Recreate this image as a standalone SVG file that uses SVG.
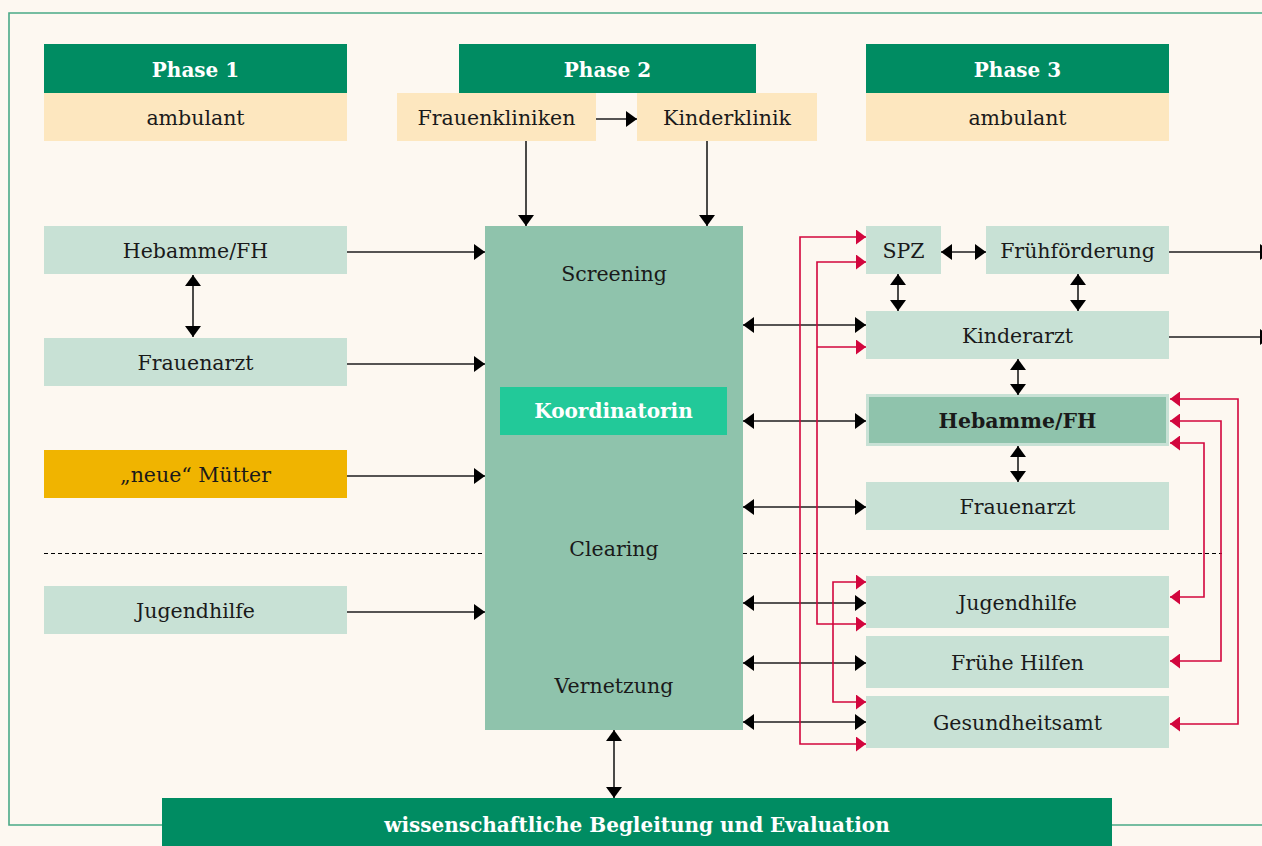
<svg xmlns="http://www.w3.org/2000/svg" width="1262" height="846" viewBox="0 0 1262 846">
<style>
.t{font-family:"DejaVu Serif","Liberation Serif",serif;font-size:20.5px;fill:#1a1a1a;text-anchor:middle}
.b{font-family:"DejaVu Serif","Liberation Serif",serif;font-size:20px;font-weight:bold;fill:#ffffff;text-anchor:middle}
.hd{fill:#008c62}
.cr{fill:#fde7bf}
.lg{fill:#c8e1d5}
.k{stroke:#1e1e1e;stroke-width:1.6;fill:none}
.r{stroke:#d2063d;stroke-width:1.6;fill:none}
</style>
<defs>
<marker id="ak" viewBox="0 0 11 16" refX="11" refY="8" markerWidth="11" markerHeight="16" markerUnits="userSpaceOnUse" orient="auto-start-reverse"><path d="M0,0 L11,8 L0,16 Z" fill="#000"/></marker>
<marker id="ar" viewBox="0 0 10 15" refX="10" refY="7.5" markerWidth="10" markerHeight="15" markerUnits="userSpaceOnUse" orient="auto-start-reverse"><path d="M0,0 L10,7.5 L0,15 Z" fill="#d2063d"/></marker>
</defs>
<rect x="0" y="0" width="1262" height="846" fill="#fdf8f1"/>
<path d="M1262,13 H9 V825 H1262" fill="none" stroke="#4aa987" stroke-width="1.6"/>

<g id="phase1">
<rect class="hd" x="44" y="44" width="303" height="49"/>
<text class="b" x="195.5" y="77">Phase 1</text>
<rect class="cr" x="44" y="93" width="303" height="48"/>
<text class="t" x="195.5" y="125">ambulant</text>
</g>
<g id="phase2">
<rect class="hd" x="459" y="44" width="297" height="49"/>
<text class="b" x="607.5" y="77">Phase 2</text>
</g>
<g id="frauenkliniken">
<rect class="cr" x="397" y="93" width="199" height="48"/>
<text class="t" x="496.5" y="125">Frauenkliniken</text>
</g>
<g id="kinderklinik">
<rect class="cr" x="637" y="93" width="180" height="48"/>
<text class="t" x="727" y="125">Kinderklinik</text>
</g>
<g id="phase3">
<rect class="hd" x="866" y="44" width="303" height="49"/>
<text class="b" x="1017.5" y="77">Phase 3</text>
<rect class="cr" x="866" y="93" width="303" height="48"/>
<text class="t" x="1017.5" y="125">ambulant</text>
</g>

<g id="hebamme-l">
<rect class="lg" x="44" y="226" width="303" height="48"/>
<text class="t" x="195.5" y="258">Hebamme/FH</text>
</g>
<g id="frauenarzt-l">
<rect class="lg" x="44" y="338" width="303" height="48"/>
<text class="t" x="195.5" y="370">Frauenarzt</text>
</g>
<g id="muetter">
<rect x="44" y="450" width="303" height="48" fill="#f0b400"/>
<text class="t" x="195.5" y="482">„neue“ Mütter</text>
</g>
<g id="jugendhilfe-l">
<rect class="lg" x="44" y="586" width="303" height="48"/>
<text class="t" x="195.5" y="618">Jugendhilfe</text>
</g>

<g id="center">
<rect x="485" y="226" width="258" height="504" fill="#8fc3ac"/>
<text class="t" x="614" y="281">Screening</text>
<rect x="500" y="387" width="227" height="48" fill="#22c999"/>
<text class="b" x="613.5" y="418">Koordinatorin</text>
<text class="t" x="614" y="556">Clearing</text>
<text class="t" x="614" y="693">Vernetzung</text>
</g>

<g id="evaluation">
<rect class="hd" x="162" y="798" width="950" height="48"/>
<text class="b" x="637" y="832">wissenschaftliche Begleitung und Evaluation</text>
</g>

<g id="spz">
<rect class="lg" x="866" y="226" width="75" height="48"/>
<text class="t" x="903.5" y="258">SPZ</text>
</g>
<g id="fruehfoerderung">
<rect class="lg" x="986" y="226" width="183" height="48"/>
<text class="t" x="1077.5" y="258">Frühförderung</text>
</g>
<g id="kinderarzt">
<rect class="lg" x="866" y="311" width="303" height="48"/>
<text class="t" x="1017.5" y="343">Kinderarzt</text>
</g>
<g id="hebamme-r">
<rect x="867.5" y="395.5" width="300" height="49" fill="#8fc3ac" stroke="#c8e1d5" stroke-width="3"/>
<text class="t" x="1017.5" y="428" font-weight="bold" font-size="20px">Hebamme/FH</text>
</g>
<g id="frauenarzt-r">
<rect class="lg" x="866" y="482" width="303" height="48"/>
<text class="t" x="1017.5" y="514">Frauenarzt</text>
</g>
<g id="jugendhilfe-r">
<rect class="lg" x="866" y="576" width="303" height="52"/>
<text class="t" x="1017.5" y="610">Jugendhilfe</text>
</g>
<g id="fruehe-hilfen">
<rect class="lg" x="866" y="636" width="303" height="52"/>
<text class="t" x="1017.5" y="670">Frühe Hilfen</text>
</g>
<g id="gesundheitsamt">
<rect class="lg" x="866" y="696" width="303" height="52"/>
<text class="t" x="1017.5" y="730">Gesundheitsamt</text>
</g>

<g id="connectors">
<line x1="44" y1="553.5" x2="485" y2="553.5" stroke="#000" stroke-width="1" stroke-dasharray="4,3"/>
<line x1="743" y1="553.5" x2="1222" y2="553.5" stroke="#000" stroke-width="1" stroke-dasharray="4,3"/>

<line class="k" x1="596" y1="119" x2="637" y2="119" marker-end="url(#ak)"/>
<line class="k" x1="526" y1="141" x2="526" y2="226" marker-end="url(#ak)"/>
<line class="k" x1="707" y1="141" x2="707" y2="226" marker-end="url(#ak)"/>

<line class="k" x1="347" y1="252" x2="485" y2="252" marker-end="url(#ak)"/>
<line class="k" x1="347" y1="364" x2="485" y2="364" marker-end="url(#ak)"/>
<line class="k" x1="347" y1="476" x2="485" y2="476" marker-end="url(#ak)"/>
<line class="k" x1="347" y1="612" x2="485" y2="612" marker-end="url(#ak)"/>
<line class="k" x1="193" y1="275" x2="193" y2="337" marker-start="url(#ak)" marker-end="url(#ak)"/>

<line class="k" x1="614" y1="730" x2="614" y2="798" marker-start="url(#ak)" marker-end="url(#ak)"/>

<line class="k" x1="743" y1="325" x2="866" y2="325" marker-start="url(#ak)" marker-end="url(#ak)"/>
<line class="k" x1="743" y1="421" x2="866" y2="421" marker-start="url(#ak)" marker-end="url(#ak)"/>
<line class="k" x1="743" y1="507" x2="866" y2="507" marker-start="url(#ak)" marker-end="url(#ak)"/>
<line class="k" x1="743" y1="603" x2="866" y2="603" marker-start="url(#ak)" marker-end="url(#ak)"/>
<line class="k" x1="743" y1="663" x2="866" y2="663" marker-start="url(#ak)" marker-end="url(#ak)"/>
<line class="k" x1="743" y1="722" x2="866" y2="722" marker-start="url(#ak)" marker-end="url(#ak)"/>

<line class="k" x1="941" y1="252" x2="986" y2="252" marker-start="url(#ak)" marker-end="url(#ak)"/>
<line class="k" x1="898" y1="274" x2="898" y2="311" marker-start="url(#ak)" marker-end="url(#ak)"/>
<line class="k" x1="1078" y1="274" x2="1078" y2="311" marker-start="url(#ak)" marker-end="url(#ak)"/>
<line class="k" x1="1018" y1="359" x2="1018" y2="395" marker-start="url(#ak)" marker-end="url(#ak)"/>
<line class="k" x1="1018" y1="446" x2="1018" y2="482" marker-start="url(#ak)" marker-end="url(#ak)"/>
<line class="k" x1="1169" y1="252" x2="1271" y2="252" marker-end="url(#ak)"/>
<line class="k" x1="1169" y1="337" x2="1271" y2="337" marker-end="url(#ak)"/>

<path class="r" d="M866,237 H800 V744 H866" marker-start="url(#ar)" marker-end="url(#ar)"/>
<path class="r" d="M866,262 H817 V624 H866" marker-start="url(#ar)" marker-end="url(#ar)"/>
<path class="r" d="M817,347 H866" marker-end="url(#ar)"/>
<path class="r" d="M866,582 H833 V702 H866" marker-start="url(#ar)" marker-end="url(#ar)"/>
<path class="r" d="M1170,399 H1238 V724 H1170" marker-start="url(#ar)" marker-end="url(#ar)"/>
<path class="r" d="M1170,421 H1221 V661 H1170" marker-start="url(#ar)" marker-end="url(#ar)"/>
<path class="r" d="M1170,443 H1204 V597 H1170" marker-start="url(#ar)" marker-end="url(#ar)"/>
</g>
</svg>
